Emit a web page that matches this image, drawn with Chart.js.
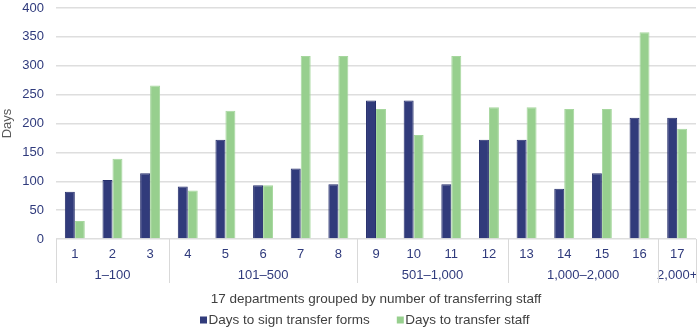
<!DOCTYPE html>
<html>
<head>
<meta charset="utf-8">
<script src="https://cdn.jsdelivr.net/npm/chart.js@4/dist/chart.umd.min.js"></script>
<style>
html,body{margin:0;padding:0;background:#fff;}
#wrap{width:700px;height:329px;position:relative;}
</style>
</head>
<body>
<div id="wrap"><canvas id="c"></canvas></div>
<script>
const categories = ['1','2','3','4','5','6','7','8','9','10','11','12','13','14','15','16','17'];
const signDays = [82, 102, 114, 91, 172, 93, 122, 95, 240, 240, 95, 172, 172, 87, 114, 210, 210];
const transferDays = [31, 139, 266, 84, 222, 93, 317, 317, 225, 180, 317, 228, 228, 225, 225, 358, 191];
const groupLabels = ['1–100', '101–500', '501–1,000', '1,000–2,000', '2,000+'];
const groupSizes = [3, 5, 4, 4, 1];
const yTicks = [0, 50, 100, 150, 200, 250, 300, 350, 400];

const NAVY = '#313b7b';
const GREEN = '#97cf8e';
const FONT = '"Liberation Sans", Arial, sans-serif';

const groupPlugin = {
  id: 'groups',
  afterDraw(chart) {
    const x = chart.scales.x;
    const ctx = chart.ctx;
    const bottom = chart.chartArea.bottom;
    const lineBottom = bottom + 44;
    const half = (x.getPixelForValue(1) - x.getPixelForValue(0)) / 2;
    ctx.save();
    ctx.strokeStyle = '#d9d9d9';
    ctx.lineWidth = 1;
    ctx.fillStyle = '#2f3a7c';
    ctx.font = '13px ' + FONT;
    ctx.textAlign = 'center';
    ctx.textBaseline = 'middle';
    let idx = 0;
    const bounds = [];
    groupSizes.forEach((n, g) => {
      const start = x.getPixelForValue(idx) - half;
      const end = x.getPixelForValue(idx + n - 1) + half;
      bounds.push(start, end);
      ctx.fillText(groupLabels[g], (start + end) / 2, bottom + 36);
      idx += n;
    });
    const uniq = [...new Set(bounds.map(b => Math.round(b)))];
    uniq.forEach(b => {
      const px = Math.min(b, chart.width - 4);
      ctx.beginPath();
      ctx.moveTo(px + 0.5, bottom);
      ctx.lineTo(px + 0.5, lineBottom);
      ctx.stroke();
    });

    // legend
    ctx.font = '13.5px ' + FONT;
    ctx.textAlign = 'left';
    let lx = 200;
    const ly = 320;
    chart.data.datasets.forEach(ds => {
      ctx.fillStyle = ds.backgroundColor;
      ctx.fillRect(lx, ly - 3.5, 7, 7);
      ctx.fillStyle = '#404040';
      ctx.fillText(ds.label, lx + 8.5, ly);
      lx += 8.5 + ctx.measureText(ds.label).width + 27;
    });
    ctx.restore();
  }
};

new Chart(document.getElementById('c'), {
  type: 'bar',
  data: {
    labels: categories,
    datasets: [
      { label: 'Days to sign transfer forms', data: signDays, backgroundColor: NAVY, borderColor: '#262f6c', borderWidth: 1, categoryPercentage: 0.53, barPercentage: 1 },
      { label: 'Days to transfer staff', data: transferDays, backgroundColor: GREEN, borderColor: '#a6d79e', borderWidth: 1, categoryPercentage: 0.53, barPercentage: 1 }
    ]
  },
  options: {
    responsive: true,
    maintainAspectRatio: false,
    animation: false,
    layout: { padding: { top: 8, right: 4, left: 0, bottom: 22 } },
    plugins: {
      tooltip: { enabled: false },
      legend: { display: false }
    },
    scales: {
      x: {
        grid: { display: false, drawTicks: false },
        border: { display: false },
        ticks: { color: '#2f3a7c', font: { size: 13, family: FONT }, padding: 8, maxRotation: 0, autoSkip: false },
        title: { display: true, text: '17 departments grouped by number of transferring staff', color: '#404040', font: { size: 13.5, family: FONT }, padding: { top: 0, bottom: 0 } },
        afterFit(s) { s.height = 68; }
      },
      y: {
        min: 0, max: 400,
        afterBuildTicks(s) { s.ticks = yTicks.map(v => ({ value: v })); },
        grid: { color: '#dedede', lineWidth: 1.5, drawTicks: false },
        border: { display: false },
        ticks: { color: '#2f3a7c', font: { size: 13, family: FONT }, padding: 12 },
        title: { display: true, text: 'Days', color: '#595959', font: { size: 13, family: FONT }, padding: 0 },
        afterFit(s) { s.width = 56; s.paddingTop = 0; s.paddingBottom = 0; }
      }
    }
  },
  plugins: [groupPlugin]
});
</script>
</body>
</html>
